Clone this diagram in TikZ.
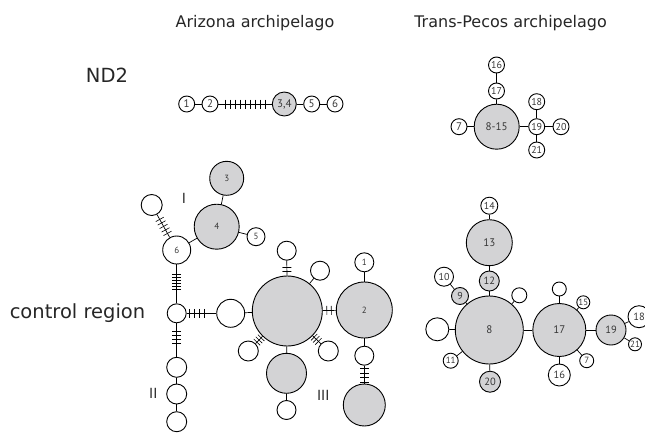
\documentclass[tikz,border=0pt]{standalone}
\usepackage{fontspec}
\setmainfont{DejaVu Sans}
\newfontfamily\numfont{PT Sans}
\usetikzlibrary{calc}
\definecolor{hapgrey}{RGB}{211,211,213}
\definecolor{labgrey}{RGB}{55,55,55}

\tikzset{
  hap/.style={draw, circle, line width=0.9pt, inner sep=0pt, minimum size=#1,
    text=labgrey, font=\numfont\fontsize{11}{11}\selectfont},
  ghap/.style={hap=#1, fill=hapgrey},
  lab/.style={font=\numfont\fontsize{#1}{#1}\selectfont},
  link/.style={line width=0.7pt},
  tick/.style={line width=0.6pt},
  title/.style={anchor=base, text=black!85, font=\fontsize{16}{16}\selectfont},
  big/.style={anchor=base, text=black!85, font=\fontsize{19.5}{19.5}\selectfont},
  clade/.style={anchor=base, text=black!80, font=\fontsize{14}{14}\selectfont},
}

% mutation marks across the line #1--#2, at distances #3 (pt) from #1
\newcommand\hashmarks[3]{%
  \foreach \s in {#3}
    \draw[tick] ($(#1)!\s pt!(#2)!4.5pt!90:(#2)$) -- ($(#1)!\s pt!(#2)!4.5pt!-90:(#2)$);
}

\begin{document}
\begin{tikzpicture}[x=1pt, y=-1pt]
\useasboundingbox (0,0) rectangle (645,434);

% headings
\node[title] (arz) at (255,27) {Arizona archipelago};
\node[title] (tpc) at (510.6,27) {Trans-Pecos archipelago};
\node[big] (nd2) at (107,82) {ND2};
\node[big] (creg) at (77.5,318) {control region};

% ND2, Arizona
\node[hap=16] (a1) at (186.7,104) {1};
\node[hap=16] (a2) at (210,104) {2};
\node[ghap=24] (a34) at (284.3,104) {3,4};
\node[hap=16] (a5) at (311.7,104) {5};
\node[hap=16] (a6) at (335,104) {6};
\draw[link] (a1) -- (a2);
\draw[link] (a2) -- (a34);
\draw[link] (a34) -- (a5);
\draw[link] (a5) -- (a6);
\hashmarks{a2}{a34}{15,20,25,30,35,40,45,50,55}

% ND2, Trans-Pecos
\node[ghap=45] (t815) at (496.7,126.7) {8-15};
\node[hap=16] (t7) at (459,126.7) {7};
\node[hap=16, lab=10] (t17) at (496.5,91) {17};
\node[hap=16, lab=10] (t16) at (496.5,65) {16};
\node[hap=16, lab=10] (t19) at (536.7,126.7) {19};
\node[hap=16, lab=10] (t18) at (536.7,101.7) {18};
\node[hap=16, lab=10] (t21) at (536.7,150) {21};
\node[hap=16, lab=10] (t20) at (561,126.7) {20};
\draw[link] (t16) -- (t17);
\draw[link] (t17) -- (t815);
\draw[link] (t7) -- (t815);
\draw[link] (t815) -- (t19);
\draw[link] (t19) -- (t18);
\draw[link] (t19) -- (t21);
\draw[link] (t19) -- (t20);

% control region, Arizona
\node[ghap=34, lab=9] (c3) at (226.7,178.3) {3};
\node[ghap=45, lab=9] (c4) at (216.7,226.7) {4};
\node[hap=18, lab=9] (c5) at (256,236.7) {5};
\node[hap=28, lab=9] (c6) at (176.7,250) {6};
\node[hap=21] (ctl) at (151.7,205) {};
\node[hap=19] (cj) at (176.7,313.3) {};
\node[hap=28] (cl) at (230.7,313.3) {};
\node[ghap=70] (cbig) at (287.3,311) {};
\node[hap=19] (ct) at (286.7,250.7) {};
\node[hap=19] (ctr) at (320,270.7) {};
\node[hap=20] (cbl) at (248.3,351) {};
\node[hap=20] (cbr) at (328.3,351) {};
\node[ghap=40] (cg) at (286.5,373.3) {};
\node[hap=19] (cgs) at (286.5,410) {};
\node[ghap=56, lab=9] (c2) at (364.3,310) {2};
\node[hap=19, lab=9] (c1) at (364.3,262.3) {1};
\node[hap=19] (c2b) at (364.3,355.7) {};
\node[ghap=42] (c2g) at (364.3,405) {};
\node[hap=20] (cii1) at (176.7,367.3) {};
\node[hap=20] (cii2) at (176.7,394) {};
\node[hap=20] (cii3) at (176.7,421.7) {};
\draw[link] (c3) -- (c4);
\draw[link] (c4) -- (c5);
\draw[link] (c4) -- (c6);
\draw[link] (c6) -- (ctl);
\draw[link] (c6) -- (cj);
\draw[link] (cj) -- (cl);
\draw[link] (cl) -- (cbig);
\draw[link] (cj) -- (cii1);
\draw[link] (cii1) -- (cii2);
\draw[link] (cii2) -- (cii3);
\draw[link] (cbig) -- (ct);
\draw[link] (cbig) -- (ctr);
\draw[link] (cbig) -- (c2);
\draw[link] (cbig) -- (cbl);
\draw[link] (cbig) -- (cbr);
\draw[link] (cbig) -- (cg);
\draw[link] (cg) -- (cgs);
\draw[link] (c2) -- (c1);
\draw[link] (c2) -- (c2b);
\draw[link] (c2b) -- (c2g);
\hashmarks{c6}{ctl}{19,23,27,31,35}
\hashmarks{c6}{cj}{24,27,30,33,36,39}
\hashmarks{cj}{cl}{13,18,23,28}
\hashmarks{cj}{cii1}{18,22,26,30}
\hashmarks{cbig}{ct}{39.5,43.5}
\hashmarks{cbig}{c2}{39.5,44}
\hashmarks{cbig}{cbl}{37.5,40.5,43.5}
\hashmarks{cbig}{cbr}{37.5,40.5,43.5}
\hashmarks{c2b}{c2g}{13,17.5,22,26.5}
\node[clade] (gI) at (184,203.3) {I};
\node[clade] (gII) at (153.3,398.3) {II};
\node[clade] (gIII) at (323.3,400.7) {III};

% control region, Trans-Pecos
\node[hap=17, lab=10] (r14) at (489.3,205.7) {14};
\node[ghap=46] (r13) at (489.3,242.7) {13};
\node[ghap=20, lab=10.5] (r12) at (489.3,281) {12};
\node[ghap=68] (r8) at (489.3,330) {8};
\node[ghap=17, lab=10] (r9) at (460,296) {9};
\node[hap=19, lab=10] (r10) at (444,276.7) {10};
\node[hap=15] (r8s) at (519.3,295.3) {};
\node[hap=23] (r8l) at (437.3,329.3) {};
\node[hap=15, lab=9] (r11) at (450.7,360.7) {11};
\node[ghap=21, lab=10.5] (r20) at (490,381.7) {20};
\node[ghap=53] (r17) at (559.3,330) {17};
\node[hap=14] (r17s) at (559.3,289) {};
\node[hap=13, lab=9] (r15) at (583.3,302.3) {15};
\node[hap=14, lab=9] (r7) at (586.7,360.7) {7};
\node[hap=22, lab=10.5] (r16) at (559.3,375) {16};
\node[ghap=30, lab=10.5] (r19) at (611,330) {19};
\node[hap=22, lab=10.5] (r18) at (639,316.7) {18};
\node[hap=13, lab=9] (r21) at (635,344.3) {21};
\draw[link] (r14) -- (r13);
\draw[link] (r13) -- (r12);
\draw[link] (r12) -- (r8);
\draw[link] (r8) -- (r9);
\draw[link] (r9) -- (r10);
\draw[link] (r8) -- (r8s);
\draw[link] (r8) -- (r8l);
\draw[link] (r8) -- (r11);
\draw[link] (r8) -- (r20);
\draw[link] (r8) -- (r17);
\draw[link] (r17) -- (r17s);
\draw[link] (r17) -- (r15);
\draw[link] (r17) -- (r7);
\draw[link] (r17) -- (r16);
\draw[link] (r17) -- (r19);
\draw[link] (r19) -- (r18);
\draw[link] (r19) -- (r21);
\end{tikzpicture}
\end{document}
